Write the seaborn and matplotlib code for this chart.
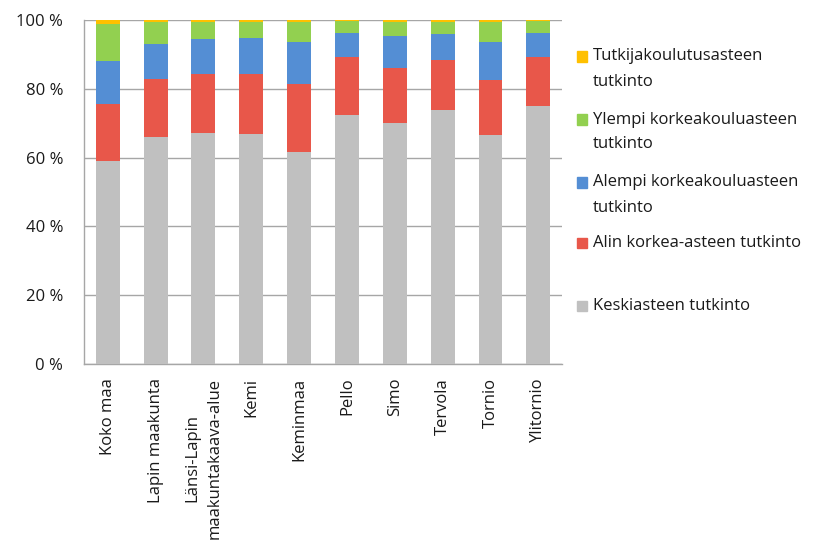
import numpy as np
import pandas as pd
import matplotlib
matplotlib.use("Agg")
import matplotlib.pyplot as plt
from matplotlib.patches import Rectangle
import seaborn as sns

# Data (share of degrees, %)
regions = ["Koko maa", "Lapin maakunta", "Länsi-Lapin\nmaakuntakaava-alue", "Kemi",
           "Keminmaa", "Pello", "Simo", "Tervola", "Tornio", "Ylitornio"]
keskiaste = [59.1, 66.1, 67.2, 66.9, 61.7, 72.3, 70.0, 74.0, 66.5, 75.1]
alin_korkea = [16.4, 16.8, 17.0, 17.3, 19.7, 16.9, 16.1, 14.5, 16.1, 14.1]
alempi_kk = [12.6, 10.3, 10.2, 10.5, 12.1, 7.1, 9.4, 7.4, 10.9, 7.1]
ylempi_kk = [10.9, 6.4, 5.2, 4.9, 6.1, 3.5, 4.1, 3.7, 6.1, 3.4]
tutkija = [1.0, 0.4, 0.4, 0.4, 0.4, 0.2, 0.4, 0.4, 0.4, 0.3]

series_names = ["Keskiasteen tutkinto", "Alin korkea-asteen tutkinto",
                "Alempi korkeakouluasteen\ntutkinto", "Ylempi korkeakouluasteen\ntutkinto",
                "Tutkijakoulutusasteen\ntutkinto"]
series_values = [keskiaste, alin_korkea, alempi_kk, ylempi_kk, tutkija]
colors = ["#C0C0C0", "#E8574A", "#548ED4", "#92D050", "#FFC000"]

sns.set_style("white")
plt.rcParams["font.family"] = ["Open Sans", "DejaVu Sans"]
text_color = "#1A1A1A"
fs = 12

fig = plt.figure(figsize=(8.22, 5.44), dpi=100)
ax = fig.add_axes([0.102, 0.331, 0.582, 0.632])

# stacked bars: draw cumulative totals from the top layer down
cum = np.cumsum(np.array(series_values), axis=0)
for i in range(len(series_values) - 1, -1, -1):
    df = pd.DataFrame({"alue": regions, "arvo": cum[i]})
    sns.barplot(data=df, x="alue", y="arvo", color=colors[i], saturation=1,
                width=0.5, errorbar=None, ax=ax, order=regions, zorder=3,
                linewidth=0)

ax.set_xlim(-0.5, len(regions) - 0.5)
ax.set_ylim(0, 100)
ax.set_xlabel("")
ax.set_ylabel("")

ax.set_yticks(range(0, 101, 20))
ax.set_yticklabels([f"{v} %" for v in range(0, 101, 20)])
ax.yaxis.grid(True, color="#A6A6A6", lw=1, zorder=0)
ax.set_axisbelow(True)

ax.set_xticks(range(len(regions)))
ax.set_xticklabels(regions, rotation=90, va="top", ha="center", linespacing=1.5)
ax.set_xticks(np.arange(-0.5, len(regions), 1), minor=True)
ax.tick_params(axis="x", which="major", length=0, pad=10, labelsize=fs, labelcolor=text_color)
ax.tick_params(axis="x", which="minor", length=5, width=1, color="#A6A6A6", direction="out")
ax.tick_params(axis="y", length=6, width=1, color="#A6A6A6", direction="out", pad=9,
               labelsize=fs, labelcolor=text_color)

for side in ["top", "right"]:
    ax.spines[side].set_visible(False)
for side in ["left", "bottom"]:
    ax.spines[side].set_color("#A6A6A6")
    ax.spines[side].set_linewidth(1)

# legend, top entry first
W, H = 822, 544
legend_y = [69, 132, 195, 243, 306]
legend_two_line = [True, True, True, False, False]
for k, idx in enumerate(range(len(series_values) - 1, -1, -1)):
    yc = legend_y[k]
    first_line = yc - 12.5 if legend_two_line[k] else yc
    fig.patches.append(Rectangle((577 / W, 1 - (first_line + 5) / H), 10 / W, 10 / H,
                                 transform=fig.transFigure, color=colors[idx]))
    fig.text(593 / W, 1 - yc / H, series_names[idx], va="center", ha="left",
             fontsize=fs, color=text_color, linespacing=1.75)

fig.savefig("out.png", dpi=100)
